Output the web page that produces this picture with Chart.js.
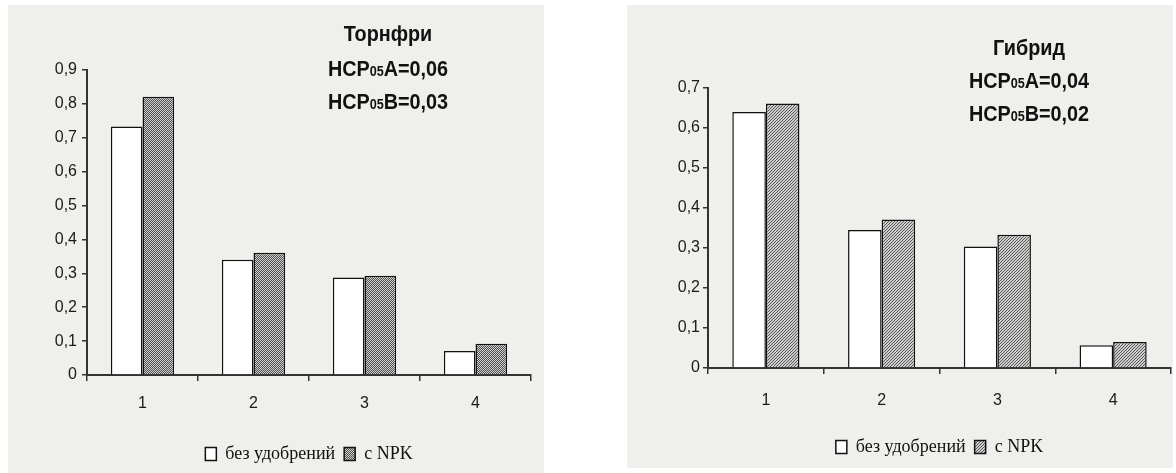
<!DOCTYPE html>
<html>
<head>
<meta charset="utf-8">
<script src="https://cdn.jsdelivr.net/npm/chart.js@4/dist/chart.umd.min.js"></script>
<style>
  body { margin: 0; background: #fff; width: 1176px; height: 473px; position: relative; overflow: hidden; }
  .panel { position: absolute; background: #eff0ec; }
  #p1 { left: 8px; top: 5px; width: 536px; height: 468px; }
  #p2 { left: 627px; top: 5px; width: 546px; height: 463px; }
</style>
</head>
<body>
<div class="panel" id="p1"><canvas id="tornfri"></canvas></div>
<div class="panel" id="p2"><canvas id="gibrid"></canvas></div>
<script>
// data
var categories = ['1', '2', '3', '4'];
var seriesNames = ['без удобрений', 'с NPK'];

var tornfriNoFert = [0.733, 0.340, 0.288, 0.071];
var tornfriNPK    = [0.821, 0.361, 0.293, 0.092];
var gibridNoFert  = [0.640, 0.345, 0.304, 0.057];
var gibridNPK     = [0.661, 0.371, 0.333, 0.065];

var tornfriMax = 0.9;
var gibridMax = 0.7;
var yStep = 0.1;

// [main, subscript, rest]
var tornfriNotes = ['Торнфри', ['НСР', '05', 'А=0,06'], ['НСР', '05', 'В=0,03']];
var gibridNotes  = ['Гибрид',  ['НСР', '05', 'А=0,04'], ['НСР', '05', 'В=0,02']];

function checkerPattern() {
    var c = document.createElement('canvas');
    c.width = 2; c.height = 2;
    var g = c.getContext('2d');
    g.fillStyle = '#d0d0d0'; g.fillRect(0, 0, 2, 2);
    g.fillStyle = '#505050'; g.fillRect(0, 0, 1, 1); g.fillRect(1, 1, 1, 1);
    return g.createPattern(c, 'repeat');
}

function stripePattern() {
    var c = document.createElement('canvas');
    c.width = 3; c.height = 3;
    var g = c.getContext('2d');
    g.fillStyle = '#cccccc'; g.fillRect(0, 0, 3, 3);
    g.fillStyle = '#5a5a5a';
    for (var x = 0; x < 3; x++) {
        for (var y = 0; y < 3; y++) {
            if ((x + y) % 3 === 0) g.fillRect(x, y, 1, 1);
        }
    }
    return g.createPattern(c, 'repeat');
}

var notesPlugin = {
    id: 'notes',
    afterDraw: function (chart, args, opts) {
        var ctx = chart.ctx;
        var mainFont = 'bold 22px "Liberation Sans", Arial, sans-serif';
        var subFont = 'bold 14px "Liberation Sans", Arial, sans-serif';
        ctx.save();
        ctx.fillStyle = '#111';
        ctx.textBaseline = 'alphabetic';
        ctx.textAlign = 'left';
        opts.lines.forEach(function (line, i) {
            var parts = (typeof line === 'string') ? [line] : line;
            var widths = parts.map(function (p, j) {
                ctx.font = (j === 1) ? subFont : mainFont;
                return ctx.measureText(p).width;
            });
            var total = widths.reduce(function (a, b) { return a + b; }, 0);
            ctx.save();
            ctx.translate(opts.x, opts.baselines[i]);
            ctx.scale(opts.scaleX, 1);
            var px = -total / 2;
            parts.forEach(function (p, j) {
                ctx.font = (j === 1) ? subFont : mainFont;
                ctx.fillText(p, px, 0);
                px += widths[j];
            });
            ctx.restore();
        });
        ctx.restore();
    }
};

function tickLabel(v) {
    return v === 0 ? '0' : v.toFixed(1).replace('.', ',');
}

function makeChart(id, noFert, npk, yMax, fill, notes, geom) {
    var ctx = document.getElementById(id).getContext('2d');
    return new Chart(ctx, {
        type: 'bar',
        data: {
            labels: categories,
            datasets: [{
                label: seriesNames[0],
                data: noFert,
                backgroundColor: '#ffffff',
                borderColor: '#111111',
                borderWidth: 1.5,
                categoryPercentage: geom.cat,
                barPercentage: 1.0
            }, {
                label: seriesNames[1],
                data: npk,
                backgroundColor: fill,
                borderColor: '#111111',
                borderWidth: 1.5,
                categoryPercentage: geom.cat,
                barPercentage: 1.0
            }]
        },
        options: {
            responsive: true,
            maintainAspectRatio: false,
            animation: false,
            layout: {
                padding: { top: geom.top, right: geom.right, left: 0, bottom: geom.bottom }
            },
            scales: {
                x: {
                    grid: {
                        drawOnChartArea: false,
                        drawTicks: true,
                        tickLength: 6,
                        color: '#333',
                        lineWidth: 1.5,
                        offset: true
                    },
                    border: { display: true, color: '#333', width: 2 },
                    ticks: {
                        font: { family: '"Liberation Sans", Arial, sans-serif', size: 16 },
                        color: '#1a1a1a',
                        padding: geom.xPad
                    },
                    afterFit: function (s) { s.height = geom.xH; }
                },
                y: {
                    min: 0,
                    max: yMax,
                    grid: {
                        drawOnChartArea: false,
                        drawTicks: true,
                        tickLength: 5,
                        color: '#333',
                        lineWidth: 1.5
                    },
                    border: { display: true, color: '#333', width: 2 },
                    ticks: {
                        stepSize: yStep,
                        font: { family: '"Liberation Sans", Arial, sans-serif', size: 16 },
                        color: '#1a1a1a',
                        padding: geom.yPad,
                        callback: tickLabel
                    },
                    afterFit: function (s) { s.width = geom.yW; }
                }
            },
            plugins: {
                legend: {
                    display: true,
                    position: 'bottom',
                    fullSize: false,
                    labels: {
                        boxWidth: 11,
                        boxHeight: 13,
                        padding: 9,
                        color: '#111',
                        font: { family: '"Liberation Serif", "Times New Roman", serif', size: 18 }
                    }
                },
                tooltip: { enabled: false },
                notes: {
                    lines: notes,
                    x: geom.noteX,
                    baselines: geom.noteY,
                    scaleX: 0.9
                }
            }
        },
        plugins: [notesPlugin]
    });
}

makeChart('tornfri', tornfriNoFert, tornfriNPK, tornfriMax, checkerPattern(), tornfriNotes, {
    cat: 0.57, top: 65, right: 13, bottom: 0, xH: 61, xPad: 13, yW: 79, yPad: 5,
    noteX: 380, noteY: [36, 71, 104]
});

makeChart('gibrid', gibridNoFert, gibridNPK, gibridMax, stripePattern(), gibridNotes, {
    cat: 0.58, top: 83, right: 2, bottom: 2, xH: 61, xPad: 17, yW: 81, yPad: 3,
    noteX: 402, noteY: [50, 83, 116]
});
</script>
</body>
</html>
